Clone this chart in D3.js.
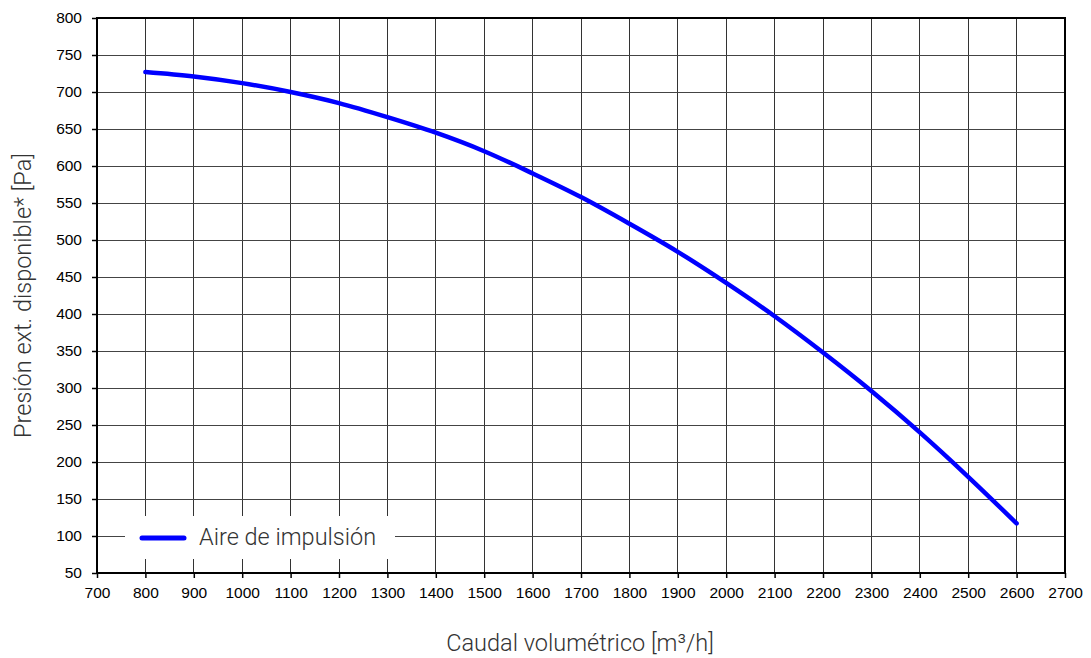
<!DOCTYPE html>
<html><head><meta charset="utf-8">
<script src="https://cdn.jsdelivr.net/npm/d3@7"></script>
<style>body{margin:0;background:#fff}svg{display:block}</style>
</head><body><svg id="c" width="1091" height="658"></svg>
<script>
const xTicks = [700,800,900,1000,1100,1200,1300,1400,1500,1600,1700,1800,1900,2000,2100,2200,2300,2400,2500,2600,2700];
const yTicks = [50,100,150,200,250,300,350,400,450,500,550,600,650,700,750,800];
const flow = [800,900,1000,1100,1200,1300,1400,1500,1600,1700,1800,1900,2000,2100,2200,2300,2400,2500,2600];
const pressure = [727,721,712,700,685,666,645,620,590,558,522,484,442,397,348,296,240,180,117];
const seriesName = "Aire de impulsión";
const xTitle = "Caudal volumétrico [m³/h]";
const yTitle = "Presión ext. disponible* [Pa]";

const svg = d3.select("#c");
const L=97, R=1065, T=18, B=573;
const x = d3.scaleLinear().domain([700,2700]).range([L,R]);
const y = d3.scaleLinear().domain([50,800]).range([B,T]);

// grid
const g = svg.append("g");
g.selectAll(".vx").data(xTicks).join("line")
 .attr("x1",d=>x(d)).attr("x2",d=>x(d)).attr("y1",T).attr("y2",B)
 .attr("stroke","#333").attr("stroke-width",1).attr("shape-rendering","crispEdges");
g.selectAll(".hy").data(yTicks).join("line")
 .attr("y1",d=>y(d)).attr("y2",d=>y(d)).attr("x1",L).attr("x2",R)
 .attr("stroke","#444").attr("stroke-width",1).attr("shape-rendering","crispEdges");

// axes
const xa = svg.append("g").attr("transform",`translate(0,${B})`)
 .call(d3.axisBottom(x).tickValues(xTicks).tickSize(5).tickPadding(9).tickFormat(d3.format("d")));
const ya = svg.append("g").attr("transform",`translate(${L},0)`)
 .call(d3.axisLeft(y).tickValues(yTicks).tickSize(5).tickPadding(10).tickFormat(d3.format("d")));
[xa,ya].forEach(a=>{
  a.select(".domain").remove();
  a.selectAll("text").attr("font-family","Liberation Sans, Arial, sans-serif").attr("font-size",15.5).attr("fill","#000");
  a.selectAll("line").attr("stroke","#000").attr("stroke-width",1.5);
});
// frame
svg.append("rect").attr("x",L).attr("y",T).attr("width",R-L).attr("height",B-T)
 .attr("fill","none").attr("stroke","#000").attr("stroke-width",2);

// legend box
svg.append("rect").attr("x",125).attr("y",516).attr("width",270).attr("height",43).attr("fill","#fff");
svg.append("line").attr("x1",142).attr("x2",184).attr("y1",538).attr("y2",538)
 .attr("stroke","#0000ff").attr("stroke-width",5).attr("stroke-linecap","round");
svg.append("text").attr("x",199).attr("y",545).text(seriesName)
 .attr("font-family","Roboto, sans-serif").attr("font-weight",300).attr("font-size",23.5).attr("fill","#333");

// curve
const line = d3.line().x((d,i)=>x(flow[i])).y(d=>y(d)).curve(d3.curveMonotoneX);
svg.append("path").attr("d",line(pressure)).attr("fill","none")
 .attr("stroke","#0000ff").attr("stroke-width",4.5).attr("stroke-linecap","round");

// titles
svg.append("text").attr("x",580).attr("y",651).attr("text-anchor","middle")
 .attr("font-family","Roboto, sans-serif").attr("font-weight",300).attr("font-size",23.5).attr("fill","#333").text(xTitle);
svg.append("text").attr("transform",`translate(31,${(T+B)/2}) rotate(-90)`).attr("text-anchor","middle")
 .attr("font-family","Roboto, sans-serif").attr("font-weight",300).attr("font-size",23.5).attr("fill","#333").text(yTitle);
</script></body></html>
